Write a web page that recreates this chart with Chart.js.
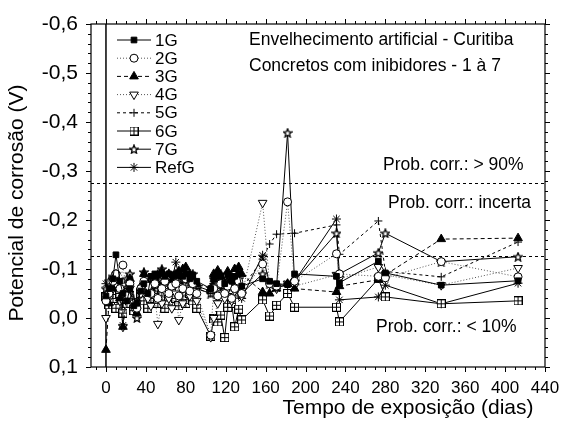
<!DOCTYPE html>
<html>
<head>
<meta charset="utf-8">
<script src="https://cdn.jsdelivr.net/npm/chart.js@4.4.1/dist/chart.umd.min.js"></script>
<style>
html, body { margin: 0; padding: 0; background: #fff; }
#wrap { width: 566px; height: 424px; }
</style>
</head>
<body>
<div id="wrap"><canvas id="chart" width="566" height="424"></canvas></div>
<script>
// Dias de exposição
const days = [0, 3, 7, 10, 14, 17, 21, 24, 28, 31, 35, 38, 42, 45, 49, 52, 56, 59, 63, 66,
    70, 73, 77, 80, 84, 87, 91, 105, 108, 112, 115, 119, 122, 126, 129, 133, 136, 157, 164, 171,
    182, 189, 231, 234, 273, 280, 336, 413];

// Potencial de corrosão (V) por série
const pot1G = [-0.045, -0.06, -0.08, -0.129, -0.075, -0.05, -0.035, -0.06, -0.025, -0.03,
    -0.055, -0.07, -0.05, -0.085, -0.09, -0.088, -0.09, -0.085, -0.09, -0.088,
    -0.09, -0.088, -0.085, -0.09, -0.08, -0.088, -0.075, -0.06, -0.08, -0.09,
    -0.085, -0.07, -0.088, -0.075, -0.085, -0.092, -0.065, -0.08, -0.075, -0.07,
    -0.068, -0.09, -0.085, -0.072, -0.116, -0.092, -0.067, -0.076];
const pot2G = [-0.035, -0.05, -0.075, -0.09, -0.06, -0.108, -0.045, -0.07, -0.03, -0.02,
    -0.06, -0.075, -0.065, -0.05, -0.07, -0.04, -0.06, -0.075, -0.05, -0.065,
    -0.07, -0.045, -0.06, -0.08, -0.055, -0.07, -0.05, 0.035, -0.06, -0.045,
    -0.07, -0.05, -0.065, -0.04, -0.06, -0.075, -0.05, -0.11, -0.07, -0.065,
    -0.237, -0.075, -0.131, -0.09, -0.085, -0.082, -0.115, -0.084];
const pot3G = [0.065, -0.03, -0.06, -0.085, -0.04, 0.018, -0.05, -0.08, -0.03, -0.01,
    -0.065, -0.09, -0.07, -0.06, -0.085, -0.07, -0.095, -0.08, -0.09, -0.075,
    -0.085, -0.095, -0.1, -0.104, -0.09, -0.08, -0.07, -0.06, -0.09, -0.097,
    -0.085, -0.07, -0.095, -0.08, -0.1, -0.104, -0.09, -0.053, -0.05, -0.06,
    -0.07, -0.06, -0.053, -0.065, -0.078, -0.088, -0.161, -0.163];
const pot4G = [0.0, -0.04, -0.06, -0.07, -0.035, 0.018, -0.045, -0.06, -0.02, -0.03,
    -0.05, -0.065, -0.04, -0.025, -0.045, 0.012, -0.03, -0.055, -0.04, -0.02,
    -0.05, 0.004, -0.03, -0.06, -0.045, -0.055, -0.035, 0.039, 0.0, -0.03,
    -0.05, -0.04, -0.06, -0.035, -0.055, -0.065, -0.045, -0.235, -0.07, -0.06,
    -0.07, -0.065, -0.088, -0.08, -0.104, -0.088, -0.067, -0.102];
const pot5G = [-0.035, -0.055, -0.07, -0.08, -0.05, -0.03, -0.06, -0.075, -0.04, -0.03,
    -0.06, -0.07, -0.055, -0.065, -0.075, -0.06, -0.07, -0.08, -0.065, -0.06,
    -0.075, -0.07, -0.08, -0.075, -0.07, -0.065, -0.06, -0.05, -0.075, -0.08,
    -0.07, -0.06, -0.075, -0.065, -0.07, -0.08, -0.06, -0.12, -0.151, -0.171,
    null, -0.173, -0.19, -0.13, -0.198, -0.095, -0.084, -0.155];
const pot6G = [-0.043, -0.027, -0.04, -0.02, -0.05, -0.01, -0.03, -0.045, -0.015, -0.03,
    -0.05, -0.035, -0.02, -0.04, -0.055, -0.03, -0.045, -0.02, -0.035, -0.05,
    -0.04, -0.025, -0.045, -0.03, -0.05, -0.035, -0.02, 0.037, 0.002, 0.008,
    -0.006, 0.04, -0.022, -0.03, 0.018, -0.018, 0.004, -0.037, -0.004, -0.026,
    -0.05, -0.022, -0.022, 0.008, -0.08, -0.043, -0.029, -0.035];
const pot7G = [-0.06, -0.075, -0.085, -0.09, -0.06, -0.045, -0.08, -0.09, -0.03, 0.0,
    -0.05, -0.094, -0.07, -0.06, -0.08, -0.09, -0.1, -0.075, -0.085, -0.06,
    -0.09, -0.095, -0.08, -0.07, -0.085, -0.09, -0.06, -0.05, -0.08, -0.07,
    -0.09, -0.06, -0.075, -0.085, -0.07, -0.08, -0.05, -0.09, -0.07, -0.065,
    -0.378, -0.075, -0.173, -0.09, -0.133, -0.173, -0.115, -0.125];
const potRefG = [-0.07, -0.05, -0.065, -0.08, -0.045, 0.015, -0.06, -0.075, -0.035, -0.02,
    -0.06, -0.07, -0.055, -0.075, -0.065, -0.05, -0.07, -0.08, -0.06, -0.075,
    -0.114, -0.085, -0.07, -0.09, -0.06, -0.075, -0.065, -0.055, -0.07, -0.035,
    -0.06, -0.075, -0.05, -0.065, -0.07, -0.045, -0.04, -0.128, -0.07, -0.06,
    -0.07, -0.075, -0.202, -0.037, -0.043, -0.067, -0.029, -0.071];

const seriesNames = ['1G', '2G', '3G', '4G', '5G', '6G', '7G', 'RefG'];
const xTicks = [0, 40, 80, 120, 160, 200, 240, 280, 320, 360, 400, 440];
const yTicks = [-0.6, -0.5, -0.4, -0.3, -0.2, -0.1, 0.0, 0.1];
const limites = [-0.276, -0.126];
const probLabels = ['Prob. corr.: > 90%', 'Prob. corr.: incerta', 'Prob. corr.: < 10%'];
const infoLines = ['Envelhecimento artificial - Curitiba', 'Concretos com inibidores - 1 à 7'];

const FONT = '"Liberation Sans", Arial, sans-serif';

// marcadores especiais (quadrado com cruz, estrela vazada)
function boxCross() {
    const c = document.createElement('canvas');
    c.width = 9; c.height = 9;
    const g = c.getContext('2d');
    g.fillStyle = '#fff';
    g.fillRect(0, 0, 9, 9);
    g.strokeStyle = '#000';
    g.lineWidth = 1;
    g.strokeRect(0.5, 0.5, 8, 8);
    g.beginPath();
    g.moveTo(4.5, 0.5); g.lineTo(4.5, 8.5);
    g.moveTo(0.5, 4.5); g.lineTo(8.5, 4.5);
    g.stroke();
    return c;
}

function openStar() {
    const c = document.createElement('canvas');
    c.width = 10; c.height = 10;
    const g = c.getContext('2d');
    g.beginPath();
    for (let i = 0; i < 10; i++) {
        const r = i % 2 === 0 ? 4.4 : 2.0;
        const a = -Math.PI / 2 + i * Math.PI / 5;
        const px = 5 + r * Math.cos(a), py = 5.4 + r * Math.sin(a);
        if (i === 0) g.moveTo(px, py); else g.lineTo(px, py);
    }
    g.closePath();
    g.fillStyle = '#fff';
    g.fill();
    g.strokeStyle = '#000';
    g.lineWidth = 1.3;
    g.stroke();
    return c;
}

const boxImg = boxCross();
const starImg = openStar();

const styles = [
    { vals: pot1G, dash: [], color: '#000', point: 'rect', fill: '#000', rot: 0, r: 4 },
    { vals: pot2G, dash: [1, 2], color: '#555', point: 'circle', fill: '#fff', rot: 0, r: 4 },
    { vals: pot3G, dash: [4, 3], color: '#000', point: 'triangle', fill: '#000', rot: 0, r: 5 },
    { vals: pot4G, dash: [1, 2], color: '#555', point: 'triangle', fill: '#fff', rot: 180, r: 5 },
    { vals: pot5G, dash: [3, 3], color: '#000', point: 'cross', fill: '#000', rot: 0, r: 4 },
    { vals: pot6G, dash: [], color: '#000', point: boxImg, fill: '#fff', rot: 0, r: 4 },
    { vals: pot7G, dash: [], color: '#000', point: starImg, fill: '#fff', rot: 0, r: 5 },
    { vals: potRefG, dash: [], color: '#000', point: 'star', fill: '#000', rot: 0, r: 4.5 }
];

const datasets = styles.map((s, i) => ({
    label: seriesNames[i],
    data: days.map((d, k) => ({ x: d, y: s.vals[k] })),
    borderColor: s.color,
    borderWidth: 1,
    borderDash: s.dash,
    pointStyle: s.point,
    pointRadius: s.r,
    pointRotation: s.rot,
    pointBackgroundColor: s.fill,
    pointBorderColor: '#000',
    pointBorderWidth: 1,
    tension: 0,
    fill: false,
    spanGaps: true
}));

function fmt(v) {
    if (Math.abs(v) < 1e-9) return '0,0';
    return v.toFixed(1).replace('.', ',');
}

const framePlugin = {
    id: 'frame',
    beforeDatasetsDraw(chart) {
        const { ctx, chartArea: a, scales: { x, y } } = chart;
        ctx.save();
        ctx.strokeStyle = '#000';
        ctx.lineWidth = 1;
        ctx.setLineDash([3, 3]);
        limites.forEach(v => {
            const py = Math.round(y.getPixelForValue(v)) + 0.5;
            ctx.beginPath();
            ctx.moveTo(a.left, py);
            ctx.lineTo(a.right, py);
            ctx.stroke();
        });
        ctx.setLineDash([]);
        ctx.lineWidth = 1.5;
        const px0 = x.getPixelForValue(0);
        ctx.beginPath();
        ctx.moveTo(px0, a.top);
        ctx.lineTo(px0, a.bottom);
        ctx.stroke();
        ctx.restore();
    },
    afterDraw(chart) {
        const { ctx, chartArea: a, scales: { x, y } } = chart;
        ctx.save();
        ctx.strokeStyle = '#000';
        ctx.lineWidth = 1.2;
        ctx.strokeRect(a.left, a.top, a.right - a.left, a.bottom - a.top);

        // ticks (todos para fora)
        ctx.lineWidth = 1;
        ctx.beginPath();
        for (let d = -10; d <= 440; d += 10) {
            const px = Math.round(x.getPixelForValue(d)) + 0.5;
            const len = d % 40 === 0 ? 5 : 3;
            ctx.moveTo(px, a.bottom); ctx.lineTo(px, a.bottom + len);
            ctx.moveTo(px, a.top); ctx.lineTo(px, a.top - len);
        }
        for (let k = 0; k <= 35; k++) {
            const v = -0.6 + k * 0.02;
            const py = Math.round(y.getPixelForValue(v)) + 0.5;
            const len = k % 5 === 0 ? 5 : 3;
            ctx.moveTo(a.left, py); ctx.lineTo(a.left - len, py);
            ctx.moveTo(a.right, py); ctx.lineTo(a.right + len, py);
        }
        ctx.stroke();

        // legenda
        ctx.textBaseline = 'middle';
        ctx.textAlign = 'left';
        ctx.font = '17px ' + FONT;
        chart.data.datasets.forEach((ds, i) => {
            const ly = 40 + i * 18.2;
            ctx.strokeStyle = ds.borderColor;
            ctx.lineWidth = 1;
            ctx.setLineDash(ds.borderDash);
            ctx.beginPath();
            ctx.moveTo(117, ly); ctx.lineTo(151, ly);
            ctx.stroke();
            ctx.setLineDash([]);
            ctx.fillStyle = ds.pointBackgroundColor;
            ctx.strokeStyle = '#000';
            Chart.helpers.drawPoint(ctx, {
                pointStyle: ds.pointStyle,
                rotation: ds.pointRotation,
                radius: ds.pointRadius,
                borderWidth: 1
            }, 134, ly);
            ctx.fillStyle = '#000';
            ctx.fillText(ds.label, 155, ly + 1);
        });

        // textos
        ctx.fillStyle = '#000';
        ctx.font = '17.5px ' + FONT;
        ctx.fillText(infoLines[0], 249, 40);
        ctx.fillText(infoLines[1], 249, 66);
        ctx.fillText(probLabels[0], 383, 165);
        ctx.fillText(probLabels[1], 388, 203);
        ctx.fillText(probLabels[2], 376, 327);

        // títulos dos eixos
        ctx.font = '21px ' + FONT;
        ctx.textAlign = 'center';
        ctx.fillText('Tempo de exposição (dias)', 408, 408);
        ctx.translate(17, 203);
        ctx.rotate(-Math.PI / 2);
        ctx.fillText('Potencial de corrosão (V)', 0, 0);
        ctx.restore();
    }
};

const chart = new Chart(document.getElementById('chart'), {
    type: 'line',
    data: { datasets: datasets },
    options: {
        responsive: false,
        animation: false,
        devicePixelRatio: 1,
        layout: { padding: { left: 0, right: 21, top: 24, bottom: 0 } },
        plugins: {
            legend: { display: false },
            tooltip: { enabled: false }
        },
        scales: {
            x: {
                type: 'linear',
                min: -15,
                max: 440,
                grid: { display: false },
                border: { display: false },
                afterBuildTicks: s => { s.ticks = xTicks.map(v => ({ value: v })); },
                afterFit: s => { s.height = 57; },
                ticks: {
                    color: '#000',
                    font: { family: FONT, size: 17 },
                    padding: 3,
                    maxRotation: 0,
                    autoSkip: false
                }
            },
            y: {
                type: 'linear',
                reverse: true,
                min: -0.6,
                max: 0.1,
                grid: { display: false },
                border: { display: false },
                afterBuildTicks: s => { s.ticks = yTicks.map(v => ({ value: v })); },
                afterFit: s => { s.width = 91; },
                ticks: {
                    color: '#000',
                    font: { family: FONT, size: 21 },
                    padding: 5,
                    callback: v => fmt(v)
                }
            }
        }
    },
    plugins: [framePlugin]
});
</script>
</body>
</html>
